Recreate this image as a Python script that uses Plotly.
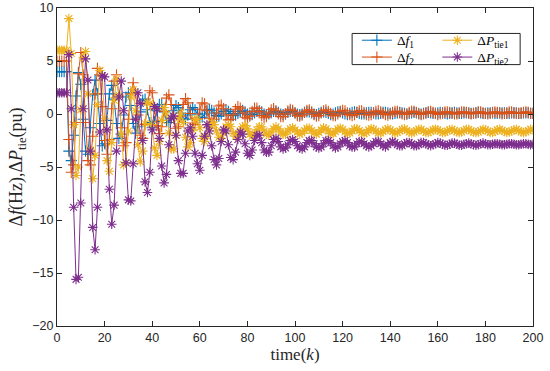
import plotly.graph_objects as go

k = list(range(0, 201))

df1 = [
    4.0, 4.0, 4.0, 4.0, 4.0, -3.5, -4.4, -2.0, 1.7, 3.9,
    2.8, -0.5, -3.5, -3.8, -1.3, 1.8, 3.2, 1.9, -0.9, -3.0,
    -2.8, -0.6, 1.9, 2.7, 1.4, -0.9, -2.3, -1.9, -0.1, 1.6,
    2.0, 0.8, -0.9, -1.8, -1.2, 0.2, 1.3, 1.4, 0.4, -0.8,
    -1.3, -0.7, 0.3, 0.9, 0.9, 0.2, -0.6, -0.8, -0.4, 0.3,
    0.8, 0.6, 0.1, -0.4, -0.5, -0.1, 0.4, 0.6, 0.4, 0.0,
    -0.3, -0.3, 0.0, 0.3, 0.45, 0.35, 0.1, -0.15, -0.2, 0.0,
    0.25, 0.4, 0.25, 0.05, -0.15, -0.1, 0.05, 0.25, 0.35, 0.2,
    0.0, -0.1, -0.05, 0.1, 0.25, 0.3, 0.2, 0.0, -0.1, 0.0,
    0.1, 0.25, 0.25, 0.15, 0.0, -0.05, 0.0, 0.15, 0.25, 0.25,
    0.1, 0.0, -0.05, 0.0, 0.15, 0.2, 0.2, 0.1, 0.0, -0.05,
    0.05, 0.15, 0.2, 0.15, 0.05, -0.05, 0.0, 0.1, 0.2, 0.2,
    0.1, 0.0, -0.05, 0.05, 0.15, 0.2, 0.15, 0.05, 0.0, 0.0,
    0.1, 0.15, 0.15, 0.1, 0.0, 0.0, 0.05, 0.15, 0.15, 0.1,
    0.05, 0.0, 0.05, 0.1, 0.15, 0.1, 0.05, 0.0, 0.05, 0.1,
    0.15, 0.1, 0.05, 0.0, 0.05, 0.1, 0.15, 0.1, 0.05, 0.05,
    0.1, 0.15, 0.1, 0.05, 0.0, 0.05, 0.1, 0.15, 0.1, 0.05,
    0.05, 0.1, 0.1, 0.1, 0.05, 0.05, 0.1, 0.15, 0.1, 0.05,
    0.05, 0.1, 0.1, 0.1, 0.05, 0.05, 0.1, 0.1, 0.1, 0.05,
    0.05, 0.1, 0.1, 0.1, 0.05, 0.05, 0.1, 0.1, 0.1, 0.05,
    0.05,
]

df2 = [
    5.0, 5.0, 5.0, 5.0, 5.0, -2.4, -5.5, -4.8, -0.8, 3.8,
    5.8, 3.7, -0.8, -4.4, -4.8, -2.1, 1.9, 4.3, 3.7, 0.7,
    -2.5, -3.8, -2.4, 0.5, 3.1, 3.7, 1.7, -1.3, -3.0, -2.7,
    -0.5, 1.9, 2.95, 2.0, -0.1, -2.0, -2.3, -1.0, 0.95, 2.2,
    2.0, 0.5, -1.1, -1.85, -1.2, 0.25, 1.5, 1.8, 0.9, -0.45,
    -1.35, -1.2, -0.2, 0.9, 1.45, 1.05, 0.05, -0.85, -1.0, -0.45,
    0.45, 1.05, 0.95, 0.3, -0.4, -0.75, -0.5, 0.1, 0.75, 0.85,
    0.5, -0.1, -0.55, -0.5, -0.1, 0.45, 0.7, 0.55, 0.1, -0.3,
    -0.45, -0.2, 0.25, 0.55, 0.55, 0.25, -0.15, -0.35, -0.25, 0.1,
    0.4, 0.5, 0.3, 0.0, -0.25, -0.25, 0.0, 0.3, 0.45, 0.35,
    0.1, -0.15, -0.2, -0.1, 0.15, 0.35, 0.4, 0.2, -0.05, -0.2,
    -0.15, 0.1, 0.3, 0.4, 0.25, 0.05, -0.15, -0.15, 0.0, 0.25,
    0.35, 0.3, 0.1, -0.05, -0.15, -0.05, 0.15, 0.3, 0.3, 0.15,
    -0.05, -0.1, -0.05, 0.1, 0.25, 0.3, 0.2, 0.05, -0.05, -0.1,
    0.0, 0.15, 0.25, 0.25, 0.1, 0.0, -0.05, 0.0, 0.15, 0.25,
    0.25, 0.15, 0.0, -0.05, 0.0, 0.1, 0.2, 0.25, 0.15, 0.05,
    -0.05, 0.0, 0.1, 0.2, 0.2, 0.15, 0.05, 0.0, 0.0, 0.1,
    0.2, 0.2, 0.15, 0.05, 0.0, 0.05, 0.1, 0.2, 0.2, 0.1,
    0.05, 0.0, 0.05, 0.15, 0.2, 0.15, 0.1, 0.0, 0.05, 0.1,
    0.2, 0.2, 0.1, 0.05, 0.05, 0.1, 0.15, 0.2, 0.15, 0.05,
    0.05,
]

dptie1 = [
    6.0, 6.0, 6.0, 6.0, 6.0, 9.0, 5.7, -1.0, -5.8, -5.0,
    0.4, 5.3, 5.9, 1.9, -3.4, -6.1, -3.9, 0.9, 4.1, 3.6,
    -0.4, -4.4, -5.4, -2.7, 1.3, 3.3, 1.8, -1.9, -4.8, -4.6,
    -1.6, 1.6, 2.3, 0.3, -2.9, -4.5, -3.5, -0.9, 1.1, 1.0,
    -1.0, -3.2, -3.9, -2.6, -0.6, 0.6, 0.0, -1.8, -3.3, -3.3,
    -2.0, -0.4, 0.1, -0.8, -2.2, -3.1, -2.7, -1.5, -0.5, -0.5,
    -1.3, -2.3, -2.6, -2.1, -1.3, -0.8, -1.0, -1.6, -2.2, -2.3,
    -1.8, -1.2, -1.0, -1.2, -1.8, -2.1, -2.0, -1.6, -1.2, -1.1,
    -1.4, -1.9, -2.1, -1.9, -1.5, -1.2, -1.2, -1.6, -1.9, -2.0,
    -1.7, -1.4, -1.2, -1.4, -1.7, -1.9, -1.9, -1.6, -1.4, -1.3,
    -1.5, -1.7, -1.9, -1.8, -1.55, -1.35, -1.35, -1.55, -1.8, -1.9,
    -1.75, -1.5, -1.3, -1.4, -1.6, -1.85, -1.85, -1.65, -1.4, -1.35,
    -1.45, -1.7, -1.85, -1.8, -1.6, -1.4, -1.4, -1.55, -1.75, -1.85,
    -1.75, -1.5, -1.4, -1.45, -1.6, -1.8, -1.8, -1.65, -1.5, -1.4,
    -1.5, -1.65, -1.8, -1.75, -1.6, -1.45, -1.4, -1.55, -1.7, -1.8,
    -1.7, -1.55, -1.45, -1.45, -1.6, -1.75, -1.75, -1.65, -1.5, -1.45,
    -1.5, -1.65, -1.75, -1.75, -1.6, -1.5, -1.45, -1.55, -1.7, -1.75,
    -1.7, -1.55, -1.45, -1.45, -1.6, -1.7, -1.75, -1.7, -1.55, -1.45,
    -1.5, -1.6, -1.75, -1.75, -1.65, -1.5, -1.45, -1.55, -1.65, -1.75,
    -1.7, -1.6, -1.5, -1.45, -1.55, -1.7, -1.75, -1.7, -1.55, -1.45,
    -1.5,
]

dptie2 = [
    2.0, 2.0, 2.0, 2.0, 2.0, 5.6, 0.5, -8.8, -15.6, -15.4,
    -8.4, 0.5, 5.2, 3.2, -3.5, -10.7, -12.8, -8.8, -1.7, 3.6,
    3.5, -1.5, -7.1, -10.4, -8.6, -3.5, 1.6, 3.1, 0.3, -4.6,
    -8.1, -8.2, -4.7, -0.5, 2.0, 1.0, -2.5, -6.4, -7.4, -5.5,
    -1.5, 0.7, 0.5, -2.3, -4.9, -6.5, -5.7, -2.9, -0.4, -0.2,
    -2.0, -4.4, -5.6, -5.6, -3.7, -1.6, -1.3, -2.1, -3.7, -4.7,
    -5.3, -3.9, -2.1, -1.0, -1.6, -3.0, -4.3, -4.8, -4.2, -2.6,
    -1.5, -1.6, -2.9, -4.1, -4.3, -3.6, -2.4, -1.7, -1.9, -2.8,
    -3.7, -3.9, -3.4, -2.5, -2.0, -2.0, -2.7, -3.4, -3.6, -3.6,
    -3.0, -2.4, -2.3, -2.6, -3.1, -3.3, -3.2, -2.9, -2.5, -2.4,
    -2.6, -3.0, -3.2, -3.3, -3.1, -2.7, -2.5, -2.5, -2.8, -3.1,
    -3.2, -3.1, -2.8, -2.5, -2.5, -2.7, -3.0, -3.2, -3.1, -2.8,
    -2.6, -2.5, -2.7, -3.0, -3.1, -3.1, -2.8, -2.6, -2.6, -2.8,
    -3.0, -3.1, -3.0, -2.8, -2.6, -2.6, -2.8, -3.0, -3.1, -2.9,
    -2.7, -2.6, -2.7, -2.9, -3.0, -3.0, -2.8, -2.7, -2.7, -2.8,
    -3.0, -3.0, -2.9, -2.7, -2.7, -2.8, -2.9, -3.0, -2.9, -2.8,
    -2.7, -2.75, -2.85, -2.95, -2.95, -2.85, -2.75, -2.75, -2.85, -2.95,
    -2.95, -2.85, -2.8, -2.75, -2.8, -2.9, -2.95, -2.9, -2.8, -2.75,
    -2.8, -2.9, -2.9, -2.85, -2.8, -2.8, -2.85, -2.9, -2.9, -2.85,
    -2.8, -2.8, -2.85, -2.9, -2.9, -2.85, -2.8, -2.8, -2.85, -2.9,
    -2.85,
]

x_ticks = [0, 20, 40, 60, 80, 100, 120, 140, 160, 180, 200]
y_ticks = [-20, -15, -10, -5, 0, 5, 10]

BLUE, ORANGE, YELLOW, PURPLE = "#0072BD", "#D95319", "#EDB120", "#7E2F8E"
SERIF = "Liberation Serif, Times New Roman, serif"
SANS = "Liberation Sans, Arial, sans-serif"
INK = "#262626"

# name, values, colour, marker, legend id
series = [
    ("Δ<i>f</i><sub>1</sub>", df1, BLUE, "cross-thin", "legend"),
    ("Δ<i>f</i><sub>2</sub>", df2, ORANGE, "cross-thin", "legend2"),
    ("Δ<i>P</i><sub>tie1</sub>", dptie1, YELLOW, "asterisk", "legend3"),
    ("Δ<i>P</i><sub>tie2</sub>", dptie2, PURPLE, "asterisk", "legend4"),
]

fig = go.Figure()
for name, vals, col, sym, leg in series:
    fig.add_trace(go.Scatter(
        x=k, y=vals, name=name, mode="lines+markers",
        line=dict(color=col, width=1),
        marker=dict(symbol=sym, size=8, color=col, line=dict(color=col, width=1.1)),
        legend=leg,
    ))

axis_common = dict(
    showline=True, linecolor=INK, linewidth=1, mirror="ticks",
    ticks="inside", ticklen=5, tickcolor=INK, tickwidth=1,
    showgrid=False, zeroline=False, automargin=False,
    tickfont=dict(family=SANS, size=12.5, color=INK),
)

def leg(xp, yp):
    return dict(x=xp, y=yp, xanchor="left", yanchor="middle",
                bgcolor="rgba(0,0,0,0)", borderwidth=0, itemwidth=30,
                font=dict(family=SERIF, size=13.5, color="black"))

col1, col2 = 0.630, 0.799
row1, row2 = 0.898, 0.845

fig.update_layout(
    width=550, height=371,
    margin=dict(l=57, r=17, t=8, b=45, autoexpand=False),
    paper_bgcolor="white", plot_bgcolor="white",
    showlegend=True,
    xaxis=dict(range=[0, 200], tickvals=x_ticks, **axis_common,
               title=dict(text="time(<i>k</i>)", font=dict(family=SERIF, size=17, color=INK), standoff=1)),
    yaxis=dict(range=[-20, 10], tickvals=y_ticks, **axis_common,
               title=dict(text="Δ<i>f</i>(Hz),Δ<i>P</i><sub>tie</sub>(pu)",
                          font=dict(family=SERIF, size=18, color=INK), standoff=4)),
    legend=leg(col1, row1),
    legend2=leg(col1, row2),
    legend3=leg(col2, row1),
    legend4=leg(col2, row2),
    shapes=[dict(type="rect", xref="paper", yref="paper",
                 x0=0.620, x1=0.973, y0=0.822, y1=0.920,
                 line=dict(color=INK, width=1), fillcolor="white", layer="below")],
)

fig.write_html("out.html", config={"displayModeBar": False},
               post_script="document.body.style.margin='0';document.body.style.padding='0';")
